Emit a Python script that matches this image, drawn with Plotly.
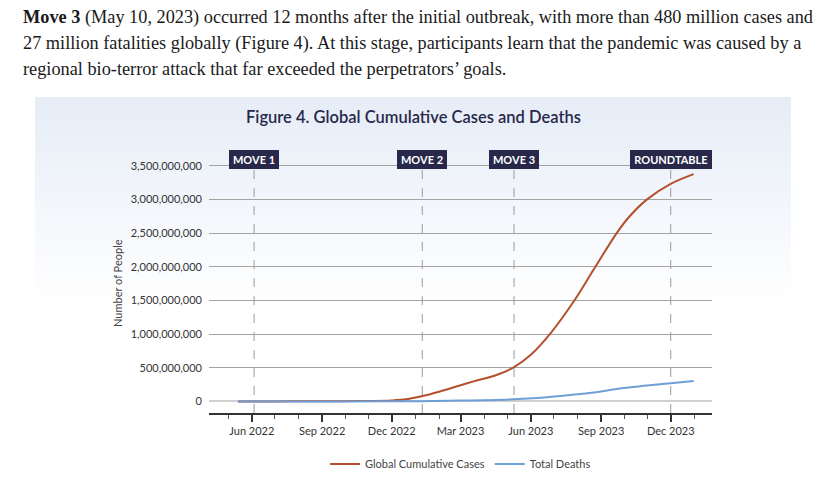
import plotly.graph_objects as go

# ---------------- data ----------------
case_dates = ["2022-05-14", "2022-07-01", "2022-08-01", "2022-09-01", "2022-10-01", "2022-11-01",
              "2022-12-01", "2022-12-20", "2023-01-09", "2023-02-02", "2023-02-27", "2023-03-18",
              "2023-04-18", "2023-05-10", "2023-06-01", "2023-06-27", "2023-07-27", "2023-08-22",
              "2023-09-22", "2023-10-08", "2023-10-31", "2023-12-01", "2023-12-31"]
case_values = [0, 0.3e6, 1e6, 2e6, 4e6, 7e6,
               15e6, 32e6, 76e6, 148e6, 233e6, 297e6,
               396e6, 510e6, 693e6, 1015e6, 1483e6, 1954e6,
               2510e6, 2745e6, 3000e6, 3230e6, 3375e6]

death_dates = ["2022-05-14", "2022-09-01", "2022-12-01", "2023-01-09", "2023-03-01", "2023-05-10",
               "2023-06-15", "2023-07-13", "2023-09-01", "2023-09-27", "2023-10-31", "2023-12-01",
               "2023-12-31"]
death_values = [0, 0.1e6, 1e6, 4e6, 12e6, 32e6,
                55e6, 83e6, 147e6, 196e6, 235e6, 270e6,
                304e6]

move_dates = ["2022-06-04", "2023-01-10", "2023-05-10", "2023-12-01"]
move_labels = ["MOVE 1", "MOVE 2", "MOVE 3", "ROUNDTABLE"]
move_box_widths = [46, 46, 46, 78]

series_names = ["Global Cumulative Cases", "Total Deaths"]
y_tick_vals = [0, 500e6, 1000e6, 1500e6, 2000e6, 2500e6, 3000e6, 3500e6]

title_text = "Figure 4. Global Cumulative Cases and Deaths"
para_lines = [
    "<b>Move 3</b> (May 10, 2023) occurred 12 months after the initial outbreak, with more than 480 million cases and",
    "27 million fatalities globally (Figure 4). At this stage, participants learn that the pandemic was caused by a",
    "regional bio-terror attack that far exceeded the perpetrators\u2019 goals.",
]

# ---------------- geometry helpers ----------------
W, H = 840, 504
L, R = 209, 712
T, B = 150, 413


def px(x):
    return (x - L) / (R - L)


def py(y):
    return (B - y) / (B - T)


NAVY = "#28284a"
CASE_COLOR = "#b4512c"
DEATH_COLOR = "#6e9fd6"
FONT = "Lato"

fig = go.Figure()
fig.add_trace(go.Scatter(x=case_dates, y=case_values, mode="lines", name=series_names[0],
                         line=dict(color=CASE_COLOR, width=2, shape="spline", smoothing=1)))
fig.add_trace(go.Scatter(x=death_dates, y=death_values, mode="lines", name=series_names[1],
                         line=dict(color=DEATH_COLOR, width=2, shape="spline", smoothing=1)))

shapes = []
# gradient panel background
top_c = (230, 237, 247)
n = 70
y0p, y1p = 97, 307
for i in range(n):
    a = y0p + (y1p - y0p) * i / n
    b = y0p + (y1p - y0p) * (i + 1) / n
    t = i / (n - 1)
    c = tuple(int(round(top_c[k] + (255 - top_c[k]) * t)) for k in range(3))
    shapes.append(dict(type="rect", xref="paper", yref="paper", x0=px(35), x1=px(791),
                       y0=py(b + 0.5), y1=py(a), fillcolor="rgb(%d,%d,%d)" % c,
                       line=dict(width=0), layer="below"))

annotations = []
for d, lab, w in zip(move_dates, move_labels, move_box_widths):
    shapes.append(dict(type="line", xref="x", yref="paper", x0=d, x1=d, y0=0, y1=py(169),
                       line=dict(color="#9a9a9a", width=1, dash="dash")))
    annotations.append(dict(x=d, xref="x", y=py(159.5), yref="paper", text="<b>%s</b>" % lab,
                            showarrow=False, xanchor="center", yanchor="middle",
                            font=dict(family=FONT, size=11, color="white"),
                            bgcolor=NAVY, bordercolor=NAVY, borderwidth=1, borderpad=1,
                            width=w, height=15))

annotations.append(dict(x=px(413), y=py(117), xref="paper", yref="paper", text=title_text,
                        showarrow=False, xanchor="center", yanchor="middle",
                        font=dict(family=FONT, size=16.5, color=NAVY, weight=600)))
annotations.append(dict(x=px(117), y=py(283), xref="paper", yref="paper", text="Number of People",
                        showarrow=False, textangle=-90, xanchor="center", yanchor="middle",
                        font=dict(family=FONT, size=11, color="#444444")))
for i, line in enumerate(para_lines):
    annotations.append(dict(x=px(21), y=py(18 + i * 25.5), xref="paper", yref="paper", text=line,
                            showarrow=False, xanchor="left", yanchor="middle",
                            font=dict(family="Liberation Serif", size=18.3, color="#1a1a1a")))

fig.update_layout(
    width=W, height=H,
    margin=dict(l=L, r=W - R, t=T, b=H - B, pad=0),
    paper_bgcolor="white", plot_bgcolor="rgba(0,0,0,0)",
    font=dict(family=FONT, size=11, color="#333333"),
    shapes=shapes, annotations=annotations,
    showlegend=True,
    legend=dict(orientation="h", x=0.5, xanchor="center", y=py(464), yanchor="middle",
                font=dict(family=FONT, size=11, color="#444444"), bgcolor="rgba(0,0,0,0)",
                itemwidth=30, tracegroupgap=0),
)
fig.update_xaxes(type="date", range=["2022-04-06", "2024-01-24"], tick0="2022-06-01", dtick="M3",
                 tickformat="%b %Y", ticks="outside", ticklen=7, tickwidth=1.5, tickcolor="#333333",
                 showline=True, linecolor="#333333", linewidth=1.5, showgrid=False, zeroline=False,
                 minor=dict(dtick="M1", ticks="outside", ticklen=4, tickcolor="#555555", tickwidth=1, showgrid=False),
                 tickfont=dict(family=FONT, size=11, color="#333333"))
fig.update_yaxes(range=[-172e6, 3733e6], tickvals=y_tick_vals, tickformat=",d",
                 showgrid=True, gridcolor="#a3a3a3", gridwidth=1,
                 zeroline=True, zerolinecolor="#cfcfcf", zerolinewidth=2,
                 showline=False, ticks="", ticklabelstandoff=6,
                 tickfont=dict(family=FONT, size=11, color="#333333"))

fig.write_html("out.html", config={"displayModeBar": False},
               post_script="document.body.style.margin='0';")
